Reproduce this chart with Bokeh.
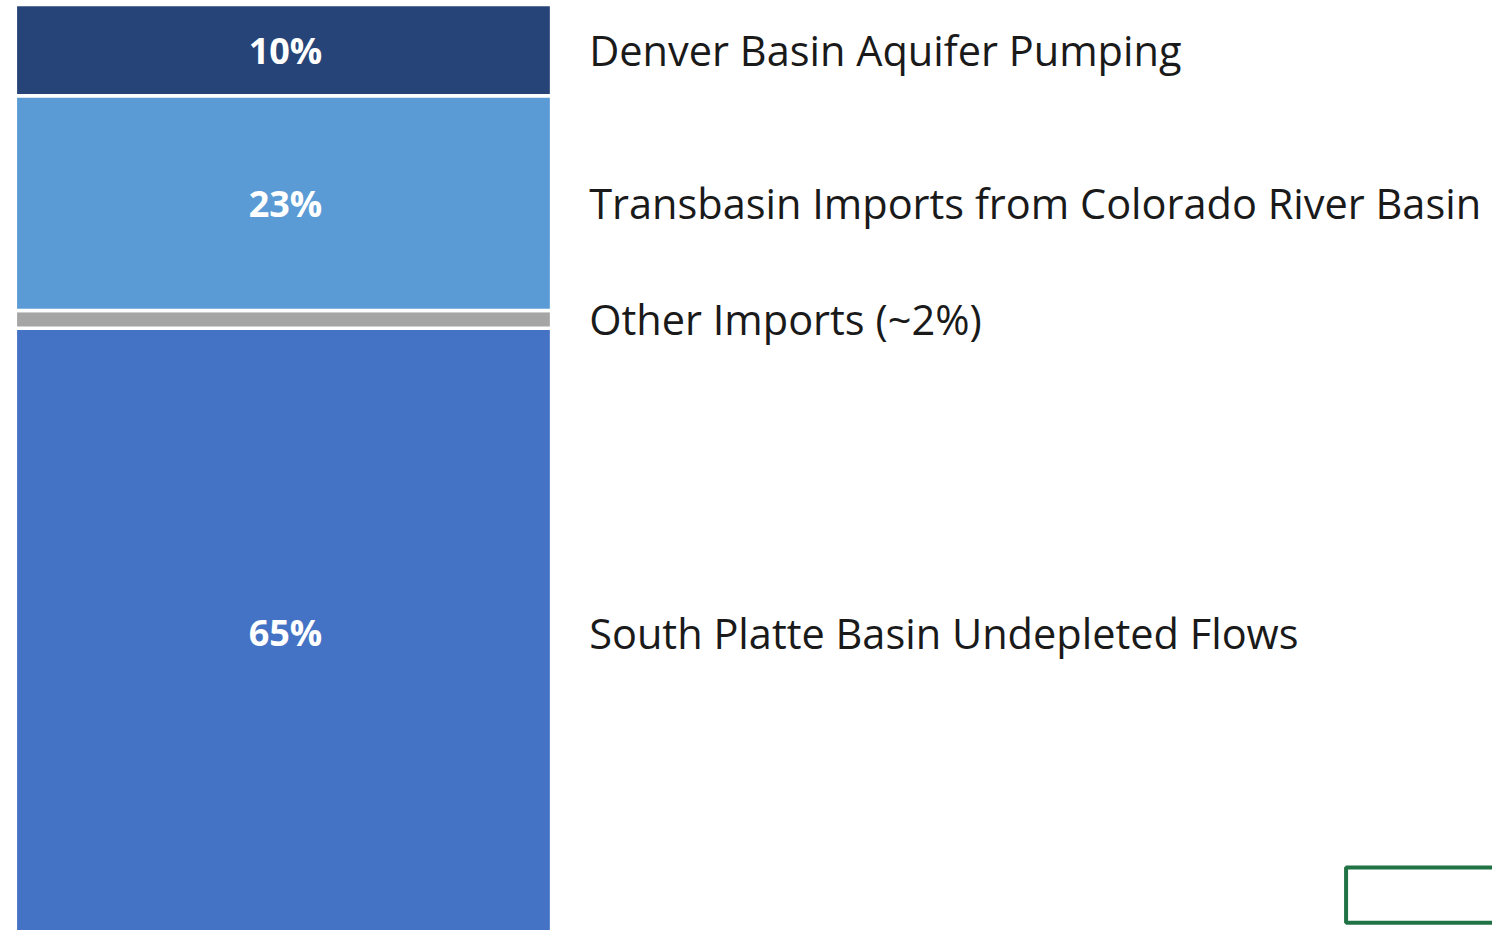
from bokeh.plotting import figure
from bokeh.models import ColumnDataSource, Range1d
from bokeh.core.properties import value
from bokeh.embed import file_html
from bokeh.resources import INLINE

# Data (bottom to top of the stacked bar)
categories = ["South Platte Basin Undepleted Flows", "Other Imports (~2%)",
              "Transbasin Imports from Colorado River Basin", "Denver Basin Aquifer Pumping"]
shares = [65.3, 1.9, 23.0, 9.8]
pct_labels = ["65%", "", "23%", "10%"]
colors = ["#4472C4", "#A5A5A5", "#5B9BD5", "#264478"]

W, H = 1492, 930          # canvas size (fits the window with the 8px margin)
REF_W, REF_H = 1508, 946  # layout space the canvas is mapped onto
PX_PER_PCT = 9.49
REF_TOP = 4               # layout y of the 100% line

def y_of(ref_px):
    return 100 - (ref_px - REF_TOP) / PX_PER_PCT

bottoms, tops, mids = [], [], []
acc = 0.0
for s in shares:
    bottoms.append(acc)
    tops.append(acc + s)
    mids.append(acc + s / 2)
    acc += s

BAR_L, BAR_R = 15, 557
LABEL_X = 595

src = ColumnDataSource(dict(bottom=bottoms, top=tops, mid=mids, color=colors,
                            cat=categories, pct=pct_labels,
                            bx=[(BAR_L + BAR_R) / 2 + 2] * 4, lx=[LABEL_X] * 4))

p = figure(width=W, height=H, output_backend="svg", toolbar_location=None,
           x_range=Range1d(0, REF_W), y_range=Range1d(y_of(REF_H), y_of(0)),
           min_border=0, outline_line_color=None)
p.xaxis.visible = False
p.yaxis.visible = False
p.grid.visible = False
p.background_fill_color = "white"
p.border_fill_color = "white"

p.quad(left=BAR_L, right=BAR_R, bottom="bottom", top="top", fill_color="color",
       line_color="white", line_width=3.5, source=src)

p.text(x="bx", y="mid", text="pct", source=src, text_color="white",
       text_font=value("Open Sans"), text_font_style="bold", text_font_size="36px",
       text_align="center", text_baseline="middle")

p.text(x="lx", y="mid", text="cat", source=src, text_color="#1a1a1a",
       text_font=value("Open Sans"), text_font_size="41.5px",
       text_align="left", text_baseline="middle")

# Excel cell-selection rectangle in the lower right corner
p.quad(left=[1360], right=[1530], top=[y_of(882)], bottom=[y_of(938)],
       fill_color=None, line_color="#217346", line_width=4)

open("out.html", "w").write(file_html(p, INLINE))
